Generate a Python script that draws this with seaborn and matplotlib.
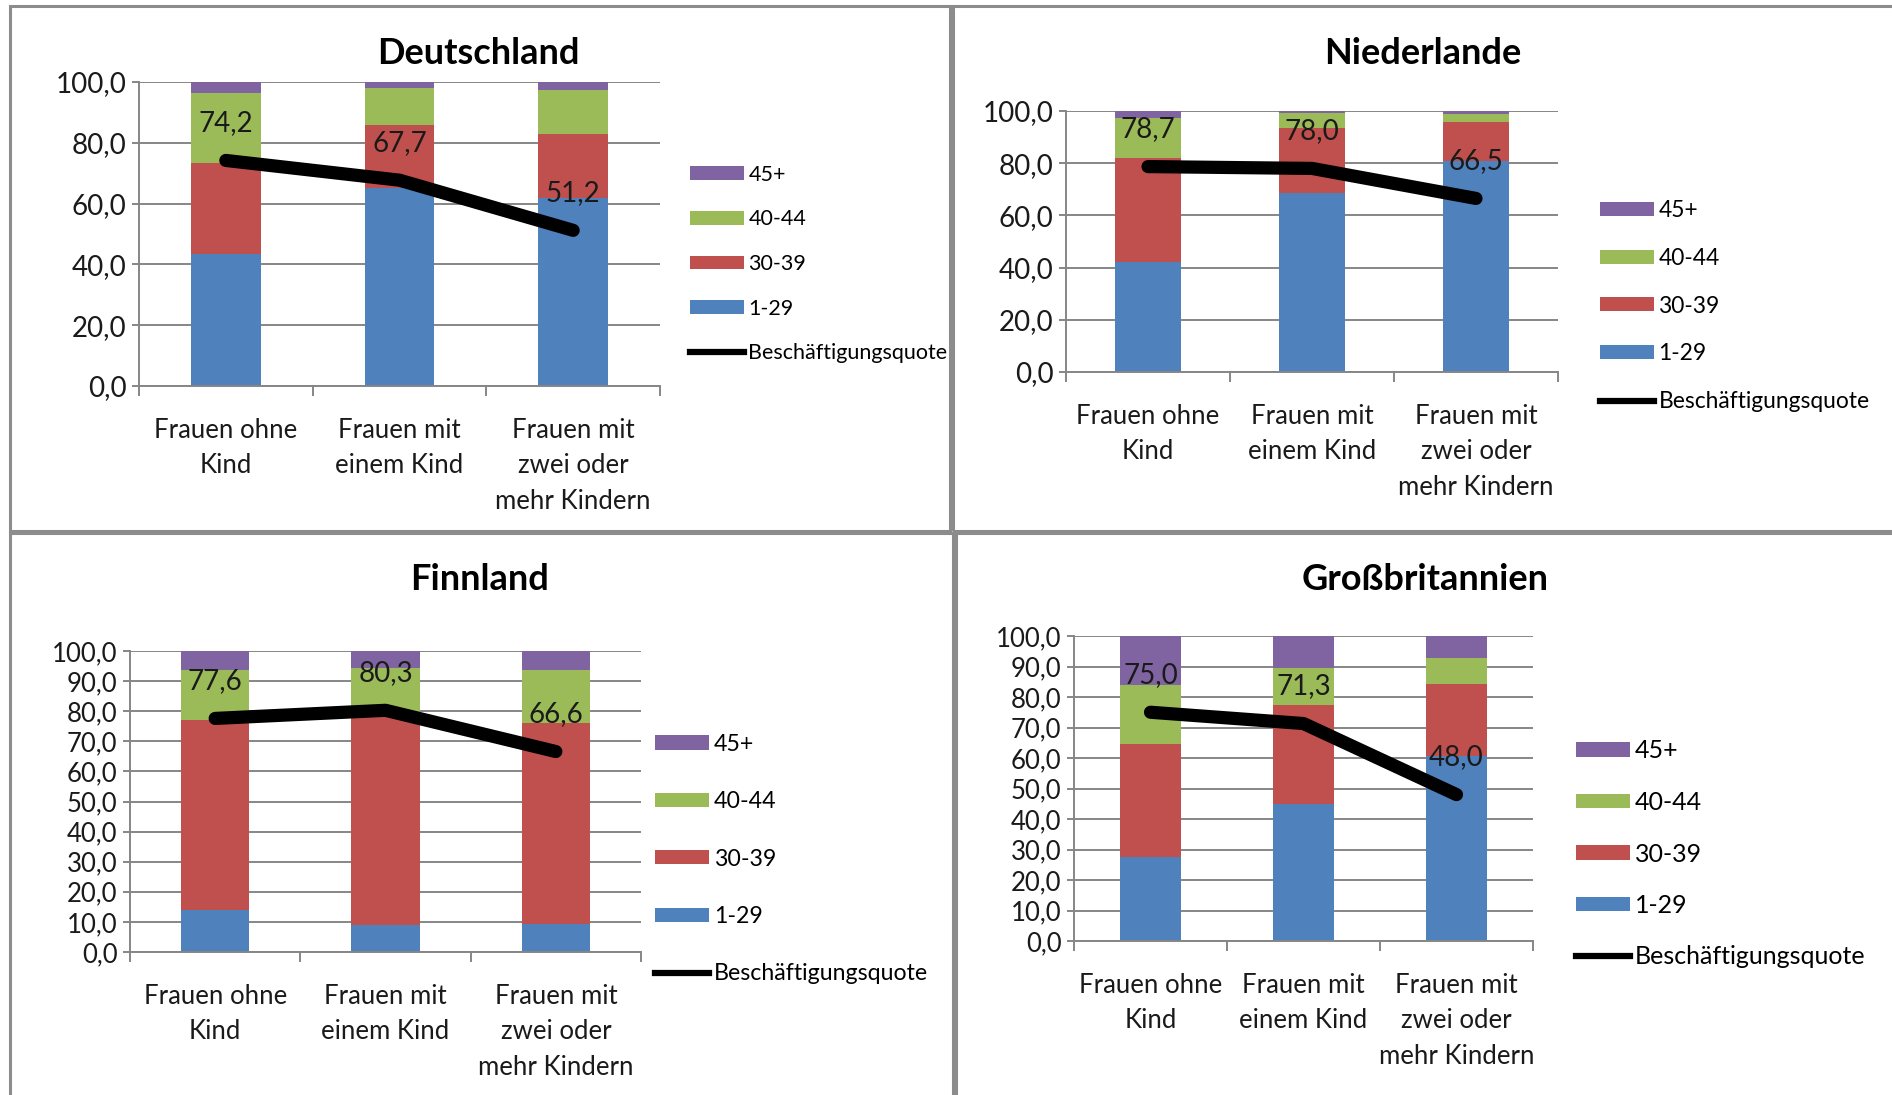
import matplotlib
matplotlib.use('Agg')
import numpy as np
import pandas as pd
import matplotlib.pyplot as plt
import seaborn as sns
from matplotlib.patches import Rectangle, Patch
from matplotlib.lines import Line2D

# categories and series
categories = ['Frauen ohne\nKind', 'Frauen mit\neinem Kind', 'Frauen mit\nzwei oder\nmehr Kindern']
groups = ['1-29', '30-39', '40-44', '45+']
line_name = 'Beschäftigungsquote'

# Deutschland
de_1_29 = [43.5, 65.2, 62.0]
de_30_39 = [30.0, 20.8, 20.8]
de_40_44 = [23.0, 11.9, 14.6]
de_45 = [3.5, 2.1, 2.6]
de_quote = [74.2, 67.7, 51.2]

# Niederlande
nl_1_29 = [42.1, 68.7, 80.7]
nl_30_39 = [40.0, 24.8, 14.9]
nl_40_44 = [15.4, 5.7, 3.1]
nl_45 = [2.5, 0.8, 1.3]
nl_quote = [78.7, 78.0, 66.5]

# Finnland
fi_1_29 = [13.8, 8.9, 9.4]
fi_30_39 = [63.4, 70.6, 66.7]
fi_40_44 = [16.4, 15.0, 17.5]
fi_45 = [6.4, 5.5, 6.4]
fi_quote = [77.6, 80.3, 66.6]

# Grossbritannien
gb_1_29 = [27.4, 44.8, 60.6]
gb_30_39 = [37.2, 32.6, 23.7]
gb_40_44 = [19.4, 12.2, 8.4]
gb_45 = [16.0, 10.4, 7.3]
gb_quote = [75.0, 71.3, 48.0]

colors = {'1-29': '#4F81BD', '30-39': '#C0504D', '40-44': '#9BBB59', '45+': '#8064A2'}
grid_col = '#868686'
txt_col = '#1a1a1a'

W, H = 1892, 1095
plt.rcParams['font.family'] = ['Lato', 'DejaVu Sans']
fig = plt.figure(figsize=(W / 100, H / 100), dpi=100)
fig.patch.set_facecolor('white')


def px_axes(x0, y0, x1, y1):
    return fig.add_axes([x0 / W, 1 - y1 / H, (x1 - x0) / W, (y1 - y0) / H])


def draw_panel(title, parts, quote, box, frame, title_xy, yticks, ysize, leg):
    ax = px_axes(*box)
    df = pd.DataFrame({g: p for g, p in zip(groups, parts)}, index=categories)
    cum = df.cumsum(axis=1)
    # overlap trick: draw cumulative totals from the top segment down
    for g in groups[::-1]:
        sns.barplot(x=categories, y=cum[g].values, color=colors[g], saturation=1,
                    width=0.4, edgecolor='none', ax=ax, zorder=2)
    sns.pointplot(x=categories, y=quote, color='black', markers='', linestyles='-',
                  linewidth=9.5, errorbar=None, ax=ax)
    for ln in ax.lines:
        ln.set_solid_capstyle('round')
        ln.set_solid_joinstyle('round')
        ln.set_zorder(4)
    for i, v in enumerate(quote):
        ax.annotate(f'{v:.1f}'.replace('.', ','), (i, v), xytext=(0, 27),
                    textcoords='offset points', ha='center', va='center',
                    fontsize=20, color=txt_col, zorder=5)

    ax.set_xlim(-0.5, 2.5)
    ax.set_ylim(0, 100)
    ax.set_yticks(yticks)
    ax.set_yticklabels([f'{t:.1f}'.replace('.', ',') for t in yticks])
    ax.set_xlabel('')
    ax.set_ylabel('')
    ax.yaxis.grid(True, color=grid_col, lw=1.4)
    ax.xaxis.grid(False)
    ax.set_axisbelow(True)
    for s in ['top', 'right']:
        ax.spines[s].set_visible(False)
    for s in ['left', 'bottom']:
        ax.spines[s].set_color(grid_col)
        ax.spines[s].set_linewidth(1.4)
    ax.set_xticks([-0.5, 0.5, 1.5, 2.5], minor=True)
    ax.tick_params(axis='x', which='major', length=0, pad=23, labelsize=18.5, labelcolor=txt_col)
    ax.tick_params(axis='x', which='minor', length=7, width=1.4, color=grid_col)
    ax.tick_params(axis='y', length=5, width=1.4, color=grid_col, labelsize=ysize,
                   labelcolor=txt_col, pad=4)
    for lab in ax.get_xticklabels():
        lab.set_linespacing(1.52)
    ax.set_facecolor('white')

    fig.text(title_xy[0] / W, 1 - title_xy[1] / H, title, ha='center', va='center',
             fontsize=26, fontweight='bold', color='black')

    fx0, fy0, fx1, fy1 = frame
    fig.add_artist(Rectangle((fx0 / W, 1 - fy1 / H), (fx1 - fx0) / W, (fy1 - fy0) / H,
                             transform=fig.transFigure, fill=False,
                             edgecolor='#8c8c8c', lw=2.2, zorder=0))

    lx, ly, fs, spacing = leg
    fs_px = fs * 100 / 72
    handles = [Patch(facecolor=colors[g], edgecolor='none') for g in groups[::-1]]
    handles.append(Line2D([0], [0], color='black', lw=4.5))
    labels = groups[::-1] + [line_name]
    ax.legend(handles, labels, loc='center left', bbox_to_anchor=(lx / W, 1 - ly / H),
              bbox_transform=fig.transFigure, frameon=False, fontsize=fs,
              handlelength=54 / fs_px, handleheight=13 / fs_px, handletextpad=0.2,
              labelspacing=spacing, borderpad=0, borderaxespad=0)
    return ax


draw_panel('Deutschland', [de_1_29, de_30_39, de_40_44, de_45], de_quote,
           (139, 82, 660, 386), (10, 6, 950, 531), (478, 53),
           np.arange(0, 101, 20), 20, (690, 264, 15.5, 1.14))
draw_panel('Niederlande', [nl_1_29, nl_30_39, nl_40_44, nl_45], nl_quote,
           (1066, 111, 1558, 372), (953, 6, 1898, 531), (1423, 53),
           np.arange(0, 101, 20), 20, (1600, 306, 16.4, 1.18))
draw_panel('Finnland', [fi_1_29, fi_30_39, fi_40_44, fi_45], fi_quote,
           (130, 651, 641, 952), (10, 533, 953, 1100), (480, 580),
           np.arange(0, 101, 10), 18.5, (655, 859, 16.7, 1.57))
draw_panel('Großbritannien', [gb_1_29, gb_30_39, gb_40_44, gb_45], gb_quote,
           (1074, 636, 1533, 941), (956, 533, 1898, 1100), (1425, 579),
           np.arange(0, 101, 10), 18.5, (1576, 854, 18, 1.14))

fig.savefig('out.png', dpi=100, facecolor='white')
